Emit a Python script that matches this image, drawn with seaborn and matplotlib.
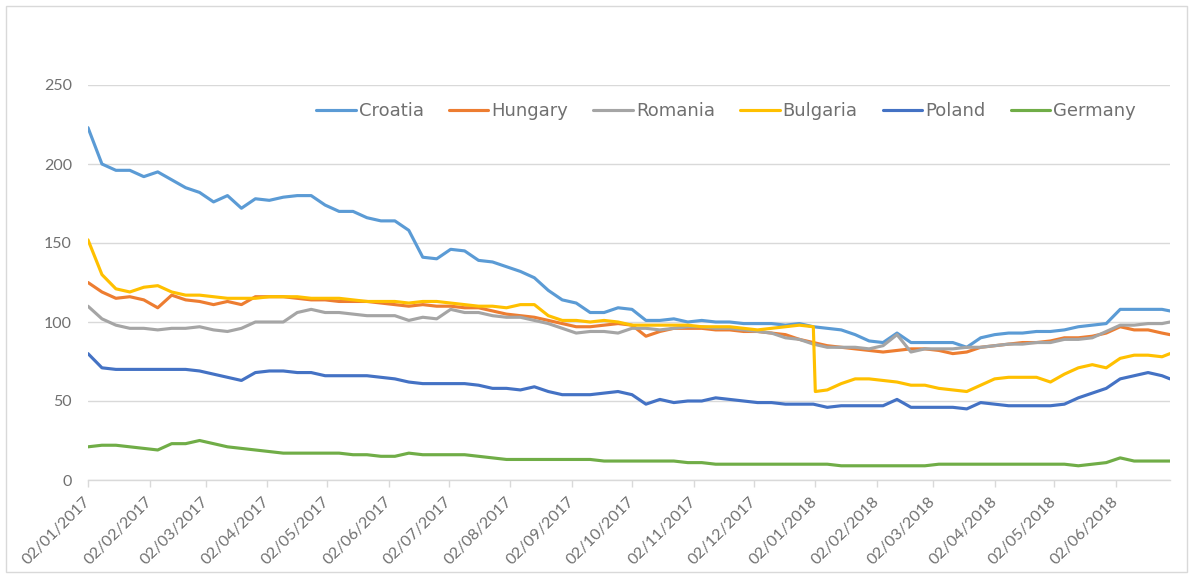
import pandas as pd
import matplotlib
matplotlib.use("Agg")
import matplotlib.pyplot as plt
import matplotlib.dates as mdates
from matplotlib.patches import Rectangle
import seaborn as sns

# ---------------- data ----------------
countries = ["Croatia", "Hungary", "Romania", "Bulgaria", "Poland", "Germany"]
colors = ["#5B9BD5", "#ED7D31", "#A5A5A5", "#FFC000", "#4472C4", "#70AD47"]

# weekly sampling dates (Mondays) plus the last day of the series
week_dates = list(pd.date_range("2017-01-02", periods=78, freq="7D")) + [pd.Timestamp("2018-06-29")]

croatia = [223, 200, 196, 196, 192, 195, 190, 185, 182, 176,
           180, 172, 178, 177, 179, 180, 180, 174, 170, 170,
           166, 164, 164, 158, 141, 140, 146, 145, 139, 138,
           135, 132, 128, 120, 114, 112, 106, 106, 109, 108,
           101, 101, 102, 100, 101, 100, 100, 99, 99, 99,
           98, 99, 97, 96, 95, 92, 88, 87, 93, 87,
           87, 87, 87, 84, 90, 92, 93, 93, 94, 94,
           95, 97, 98, 99, 108, 108, 108, 108, 107]
hungary = [125, 119, 115, 116, 114, 109, 117, 114, 113, 111,
           113, 111, 116, 116, 116, 115, 114, 114, 113, 113,
           113, 112, 111, 110, 111, 110, 110, 109, 109, 107,
           105, 104, 103, 101, 99, 97, 97, 98, 99, 98,
           91, 94, 96, 96, 96, 95, 95, 94, 94, 93,
           92, 89, 87, 85, 84, 83, 82, 81, 82, 83,
           83, 82, 80, 81, 84, 85, 86, 87, 87, 88,
           90, 90, 91, 93, 97, 95, 95, 93, 92]
romania = [110, 102, 98, 96, 96, 95, 96, 96, 97, 95,
           94, 96, 100, 100, 100, 106, 108, 106, 106, 105,
           104, 104, 104, 101, 103, 102, 108, 106, 106, 104,
           103, 103, 101, 99, 96, 93, 94, 94, 93, 96,
           96, 95, 96, 97, 97, 96, 96, 95, 94, 93,
           90, 89, 86, 84, 84, 84, 83, 85, 92, 81,
           83, 83, 83, 84, 84, 85, 86, 86, 87, 87,
           89, 89, 90, 94, 98, 98, 99, 99, 100]
bulgaria = [152, 130, 121, 119, 122, 123, 119, 117, 117, 116,
            115, 115, 115, 116, 116, 116, 115, 115, 115, 114,
            113, 113, 113, 112, 113, 113, 112, 111, 110, 110,
            109, 111, 111, 104, 101, 101, 100, 101, 100, 98,
            98, 98, 98, 98, 97, 97, 97, 96, 95, 96,
            97, 98, 97, 57, 61, 64, 64, 63, 62, 60,
            60, 58, 57, 56, 60, 64, 65, 65, 65, 62,
            67, 71, 73, 71, 77, 79, 79, 78, 80]
# Bulgaria's sudden drop at the start of January 2018
bulgaria_drop_date = "2018-01-02"
bulgaria_drop_value = 56
poland = [80, 71, 70, 70, 70, 70, 70, 70, 69, 67,
          65, 63, 68, 69, 69, 68, 68, 66, 66, 66,
          66, 65, 64, 62, 61, 61, 61, 61, 60, 58,
          58, 57, 59, 56, 54, 54, 54, 55, 56, 54,
          48, 51, 49, 50, 50, 52, 51, 50, 49, 49,
          48, 48, 48, 46, 47, 47, 47, 47, 51, 46,
          46, 46, 46, 45, 49, 48, 47, 47, 47, 47,
          48, 52, 55, 58, 64, 66, 68, 66, 64]
germany = [21, 22, 22, 21, 20, 19, 23, 23, 25, 23,
           21, 20, 19, 18, 17, 17, 17, 17, 17, 16,
           16, 15, 15, 17, 16, 16, 16, 16, 15, 14,
           13, 13, 13, 13, 13, 13, 13, 12, 12, 12,
           12, 12, 12, 11, 11, 10, 10, 10, 10, 10,
           10, 10, 10, 10, 9, 9, 9, 9, 9, 9,
           9, 10, 10, 10, 10, 10, 10, 10, 10, 10,
           10, 9, 10, 11, 14, 12, 12, 12, 12]

y_ticks = [0, 50, 100, 150, 200, 250]

# ---------------- long-form table ----------------
series = {"Croatia": croatia, "Hungary": hungary, "Romania": romania,
          "Bulgaria": bulgaria, "Poland": poland, "Germany": germany}
frames = []
for name in countries:
    frames.append(pd.DataFrame({"date": week_dates, "value": series[name], "country": name}))
frames.append(pd.DataFrame({"date": [pd.Timestamp(bulgaria_drop_date)],
                            "value": [bulgaria_drop_value], "country": ["Bulgaria"]}))
df = pd.concat(frames, ignore_index=True).sort_values(["country", "date"])

# ---------------- drawing ----------------
sns.set_theme(style="white")
plt.rcParams["font.family"] = ["Lato", "DejaVu Sans"]
text_grey = "#707070"
grid_grey = "#d9d9d9"

fig = plt.figure(figsize=(11.93, 5.74), dpi=100)
fig.patch.set_facecolor("white")
ax = fig.add_axes([88 / 1193, 1 - 480 / 574, 1082 / 1193, 395 / 574])

sns.lineplot(data=df, x="date", y="value", hue="country", hue_order=countries,
             palette=colors, linewidth=2.25, ax=ax, estimator=None, sort=True)

ax.set_ylim(0, 250)
ax.set_yticks(y_ticks)
ax.set_xlim(week_dates[0], week_dates[-1])
ax.yaxis.grid(True, color=grid_grey, linewidth=1)
ax.xaxis.grid(False)
ax.set_axisbelow(True)
ax.set_xlabel("")
ax.set_ylabel("")

for side in ["top", "right", "left"]:
    ax.spines[side].set_visible(False)
ax.spines["bottom"].set_color(grid_grey)
ax.spines["bottom"].set_linewidth(1)

ax.xaxis.set_major_locator(mdates.MonthLocator(bymonthday=2))
ax.xaxis.set_major_formatter(mdates.DateFormatter("%d/%m/%Y"))
ax.tick_params(axis="x", length=5, width=1, color=grid_grey, labelsize=11.5,
               labelcolor=text_grey, pad=9, bottom=True)
ax.tick_params(axis="y", length=0, pad=11.5, labelsize=11.5, labelcolor=text_grey)
for lbl in ax.get_xticklabels():
    lbl.set_rotation(45)
    lbl.set_ha("right")
    lbl.set_va("center")
    lbl.set_rotation_mode("anchor")

handles, labels = ax.get_legend_handles_labels()
if ax.get_legend() is not None:
    ax.get_legend().remove()
leg = ax.legend(handles, labels, loc="center", bbox_to_anchor=(726 / 1193, 1 - 111 / 574),
                bbox_transform=fig.transFigure, ncol=6, frameon=False,
                prop={"family": "DejaVu Sans", "size": 13},
                handlelength=2.2, handletextpad=0.17, columnspacing=1.38)
for t in leg.get_texts():
    t.set_color(text_grey)
for h in leg.get_lines():
    h.set_linewidth(2.25)

fig.patches.append(Rectangle((6 / 1193, 2 / 574), 1181 / 1193, 566 / 574,
                             transform=fig.transFigure, fill=False,
                             edgecolor=grid_grey, linewidth=1))

fig.savefig("out.png", dpi=100, facecolor="white")
